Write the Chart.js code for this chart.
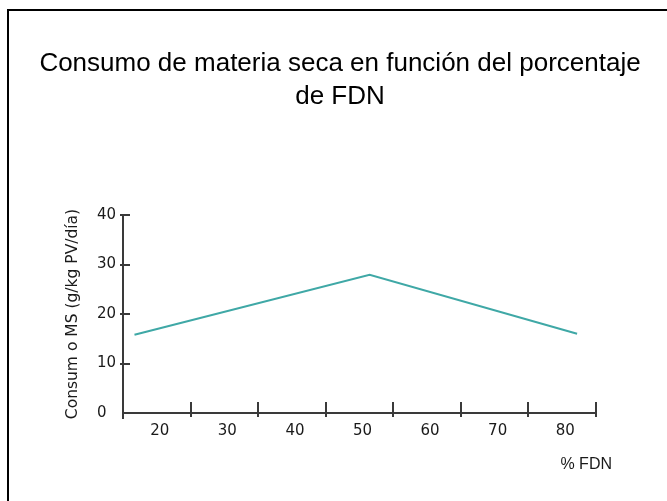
<!DOCTYPE html>
<html>
<head>
<meta charset="utf-8">
<script src="https://cdn.jsdelivr.net/npm/chart.js@4/dist/chart.umd.min.js"></script>
<style>
  html, body { margin: 0; padding: 0; background: #fff; overflow: hidden; }
  #wrap { position: relative; width: 667px; height: 501px; }
  #frame { position: absolute; left: 7px; top: 9px; width: 700px; height: 600px;
           border-left: 2px solid #000; border-top: 2px solid #000; box-sizing: border-box; pointer-events: none; }
  canvas { position: absolute; left: 0; top: 0; }
</style>
</head>
<body>
<div id="wrap">
  <canvas id="c" width="667" height="501"></canvas>
  <div id="frame"></div>
</div>
<script>
// ---- data ----
const titleLines = ["Consumo de materia seca en función del porcentaje", "de FDN"];
const xAxisTitle = "% FDN";
const yAxisTitle = "Consum o MS (g/kg PV/día)";
const fdnValues = [16.7, 51.5, 82.2];          // % FDN
const consumoValues = [15.8, 27.9, 16.0];      // g/kg PV/día
const xTickLabels = [20, 30, 40, 50, 60, 70, 80];
const xTickMarks = [25, 35, 45, 55, 65, 75, 85];
const yTickValues = [0, 10, 20, 30, 40];

const points = fdnValues.map((x, i) => ({ x: x, y: consumoValues[i] }));
const axisColor = '#3a3a3a';

const textPlugin = {
  id: 'extraText',
  afterDraw(chart) {
    const ctx = chart.ctx;
    const xs = chart.scales.x, ys = chart.scales.y;
    const ca = chart.chartArea;
    ctx.save();
    // tick marks
    ctx.strokeStyle = axisColor;
    ctx.lineWidth = 2;
    ctx.beginPath();
    xTickMarks.forEach(v => {
      const px = Math.round(xs.getPixelForValue(v));
      ctx.moveTo(px, ca.bottom - 11);
      ctx.lineTo(px, ca.bottom + 4);
    });
    ctx.moveTo(ca.left, ca.bottom);
    ctx.lineTo(ca.left, ca.bottom + 6);
    yTickValues.filter(v => v > 0).forEach(v => {
      const py = Math.round(ys.getPixelForValue(v));
      ctx.moveTo(ca.left - 3, py);
      ctx.lineTo(ca.left + 7, py);
    });
    ctx.stroke();

    // chart title
    ctx.fillStyle = '#000';
    ctx.font = '26px "Liberation Sans", Arial, sans-serif';
    ctx.textAlign = 'center';
    ctx.textBaseline = 'middle';
    titleLines.forEach((t, i) => ctx.fillText(t, 340, 64 + i * 33));

    // axis titles
    ctx.fillStyle = '#1a1a1a';
    ctx.font = '16px "Liberation Sans", Arial, sans-serif';
    ctx.textAlign = 'right';
    ctx.fillText(xAxisTitle, ca.right + 16, ca.bottom + 52);

    ctx.translate(ca.left - 50, (ca.top + ca.bottom) / 2);
    ctx.rotate(-Math.PI / 2);
    ctx.textAlign = 'center';
    ctx.font = '15.5px "DejaVu Sans", Verdana, sans-serif';
    ctx.fillText(yAxisTitle, 0, 0);
    ctx.restore();
  }
};

new Chart(document.getElementById('c'), {
  type: 'line',
  data: {
    datasets: [{
      data: points,
      borderColor: '#3fa8a6',
      borderWidth: 2,
      pointRadius: 0,
      tension: 0,
      fill: false
    }]
  },
  options: {
    responsive: false,
    animation: false,
    layout: { padding: { left: 97, right: 71, top: 215, bottom: 0 } },
    plugins: {
      legend: { display: false },
      tooltip: { enabled: false },
      title: { display: false }
    },
    scales: {
      x: {
        type: 'linear',
        min: 15,
        max: 85,
        afterBuildTicks(scale) {
          scale.ticks = xTickLabels.map(v => ({ value: v }));
        },
        afterFit(scale) { scale.height = 88; },
        grid: { display: true, drawOnChartArea: false, drawTicks: false, color: 'transparent' },
        border: { display: true, color: axisColor, width: 2 },
        ticks: {
          autoSkip: false,
          maxRotation: 0,
          padding: 9,
          labelOffset: 3,
          color: '#1a1a1a',
          font: { family: '"DejaVu Sans", Verdana, sans-serif', size: 15 }
        }
      },
      y: {
        min: 0,
        max: 40,
        afterBuildTicks(scale) {
          scale.ticks = yTickValues.map(v => ({ value: v }));
        },
        afterFit(scale) { scale.width = 26; },
        grid: { display: true, drawOnChartArea: false, drawTicks: false, color: 'transparent' },
        border: { display: true, color: axisColor, width: 2 },
        ticks: {
          crossAlign: 'far',
          padding: 6,
          color: '#1a1a1a',
          font: { family: '"DejaVu Sans", Verdana, sans-serif', size: 15 }
        }
      }
    }
  },
  plugins: [textPlugin]
});
</script>
</body>
</html>
